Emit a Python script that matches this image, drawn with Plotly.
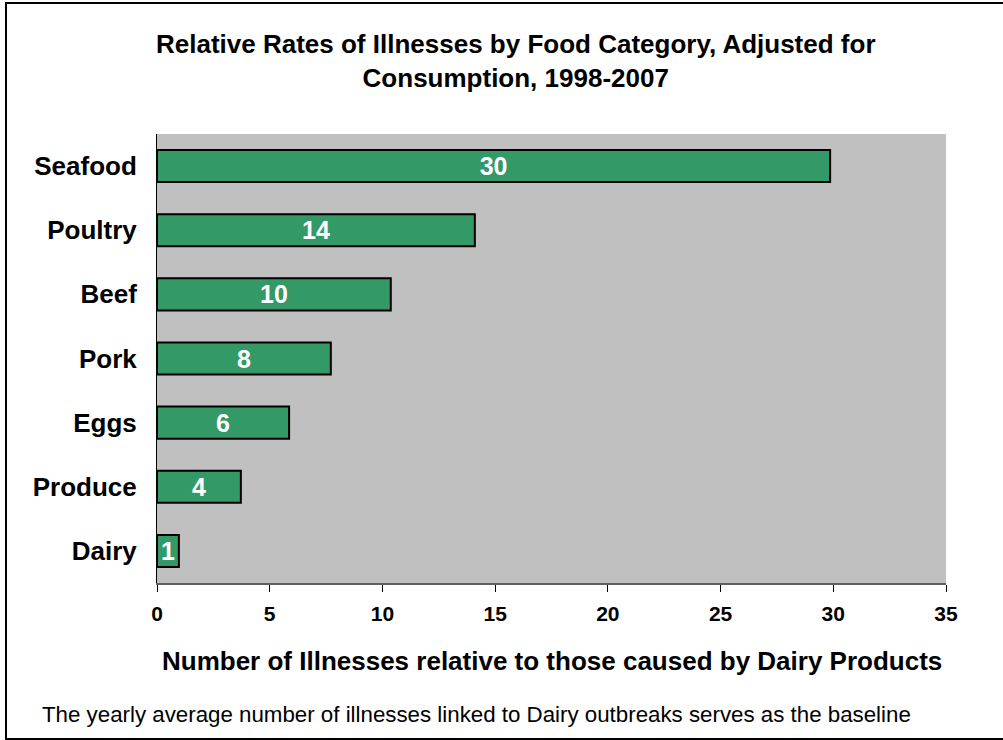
import plotly.graph_objects as go

categories = ["Seafood", "Poultry", "Beef", "Pork", "Eggs", "Produce", "Dairy"]
values = [29.86, 14.1, 10.37, 7.71, 5.86, 3.72, 0.97]
x_ticks = [0, 5, 10, 15, 20, 25, 30, 35]

title_text = "Relative Rates of Illnesses by Food Category, Adjusted for<br>Consumption, 1998-2007"
xaxis_title = "Number of Illnesses relative to those caused by Dairy Products"
footnote = "The yearly average number of illnesses linked to Dairy outbreaks serves as the baseline"

FONT = "Liberation Sans, Arial, sans-serif"
W, H = 1003, 740
L, R, T, B = 157, 57, 134, 157
pw, ph = W - L - R, H - T - B


def px(x):
    return (x - L) / pw


def py(y):
    return (H - B - y) / ph


fig = go.Figure(
    go.Bar(
        x=values,
        y=categories,
        orientation="h",
        marker=dict(color="#339966", line=dict(color="black", width=2)),
        text=[f"{round(v):d}" for v in values],
        textposition="inside",
        insidetextanchor="middle",
        textangle=0,
        constraintext="none",
        textfont=dict(family=FONT, size=25, color="white", weight="bold"),
        cliponaxis=False,
    )
)

fig.update_layout(
    width=W,
    height=H,
    margin=dict(l=L, r=R, t=T, b=B, autoexpand=False),
    paper_bgcolor="white",
    plot_bgcolor="#C0C0C0",
    showlegend=False,
    bargap=0.5,
    uniformtext=dict(mode=False),
    xaxis=dict(
        range=[0, 35],
        tickvals=x_ticks,
        ticktext=[str(t) for t in x_ticks],
        showgrid=False,
        zeroline=False,
        showline=True,
        linecolor="#606060",
        linewidth=2,
        ticks="outside",
        ticklen=7,
        tickcolor="black",
        tickwidth=1,
        ticklabelstandoff=4,
        tickfont=dict(family=FONT, size=21, color="black", weight="bold"),
        fixedrange=True,
    ),
    yaxis=dict(
        categoryorder="array",
        categoryarray=categories[::-1],
        showgrid=False,
        zeroline=False,
        showline=True,
        linecolor="black",
        linewidth=1,
        ticks="",
        ticklabelstandoff=14,
        tickfont=dict(family=FONT, size=26, color="black", weight="bold"),
        fixedrange=True,
    ),
    annotations=[
        dict(
            text=title_text,
            x=px(516), y=py(61), xref="paper", yref="paper",
            xanchor="center", yanchor="middle", showarrow=False,
            font=dict(family=FONT, size=26, color="black", weight="bold"),
        ),
        dict(
            text=xaxis_title,
            x=px(552), y=py(661), xref="paper", yref="paper",
            xanchor="center", yanchor="middle", showarrow=False,
            font=dict(family=FONT, size=26, color="black", weight="bold"),
        ),
        dict(
            text=footnote,
            x=px(40), y=py(714), xref="paper", yref="paper",
            xanchor="left", yanchor="middle", showarrow=False,
            font=dict(family=FONT, size=22.3, color="black"),
        ),
    ],
    shapes=[
        dict(
            type="rect", xref="paper", yref="paper",
            x0=px(6), x1=px(1015), y0=py(739), y1=py(3),
            line=dict(color="black", width=2), fillcolor="rgba(0,0,0,0)",
            layer="below",
        )
    ],
)

fig.write_html("out.html")
